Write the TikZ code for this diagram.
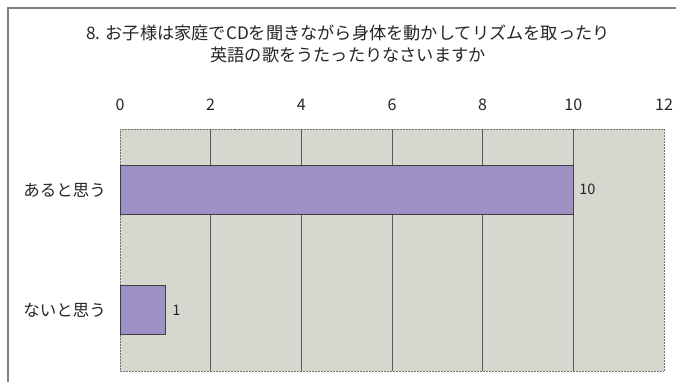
\documentclass[tikz,border=0pt]{standalone}
\usepackage{fontspec}
\setmainfont{Noto Sans CJK JP}
\begin{document}
\begin{tikzpicture}[x=1pt,y=-1pt,
  lbl/.style={inner sep=0pt,font=\fontsize{16}{18}\selectfont,text=black!85},
  cat/.style={inner sep=0pt,anchor=east,font=\fontsize{16.5}{18}\selectfont,text=black!85},
  grid/.style={draw=black!65,line width=0.8pt},
  bar/.style={fill=barc,draw=black!75,line width=0.9pt}]
\definecolor{plotbg}{HTML}{D7D7CF}
\definecolor{barc}{HTML}{9C90C4}
\useasboundingbox (0,0) rectangle (676,381);
\fill[white] (0,0) rectangle (676,381);
\draw[black!50,line width=1.4pt] (8,8) rectangle (690,395);
\node[inner sep=0pt,align=center,font=\fontsize{17.2}{22}\selectfont,text=black!85] (title) at (348,44)
  {8. お子様は家庭でCDを聞きながら身体を動かしてリズムを取ったり\\英語の歌をうたったりなさいますか};
\fill[plotbg] (120,129) rectangle (664,371);
\draw[black!55,line width=0.6pt,dash pattern=on 1pt off 0.5pt] (120,129) rectangle (664,371);
\foreach \v in {2,4,...,10} {
  \draw[grid] ({120+\v*544/12},129) -- ({120+\v*544/12},371);
}
\foreach \v in {0,2,...,12} {
  \node[lbl] (t\v) at ({120+\v*544/12},105) {\v};
}
\node[bar,minimum width=453.3pt,minimum height=49pt,anchor=west,inner sep=0pt] (b1) at (120,189.5) {};
\node[bar,minimum width=45.3pt,minimum height=48.5pt,anchor=west,inner sep=0pt] (b2) at (120,310) {};
\node[lbl,anchor=west,font=\fontsize{14.5}{16}\selectfont] (v1) at ([xshift=5pt]b1.east) {10};
\node[lbl,anchor=west,font=\fontsize{14.5}{16}\selectfont] (v2) at ([xshift=6pt]b2.east) {1};
\node[cat] (c1) at (106,190) {あると思う};
\node[cat] (c2) at (106,310) {ないと思う};
\end{tikzpicture}
\end{document}
